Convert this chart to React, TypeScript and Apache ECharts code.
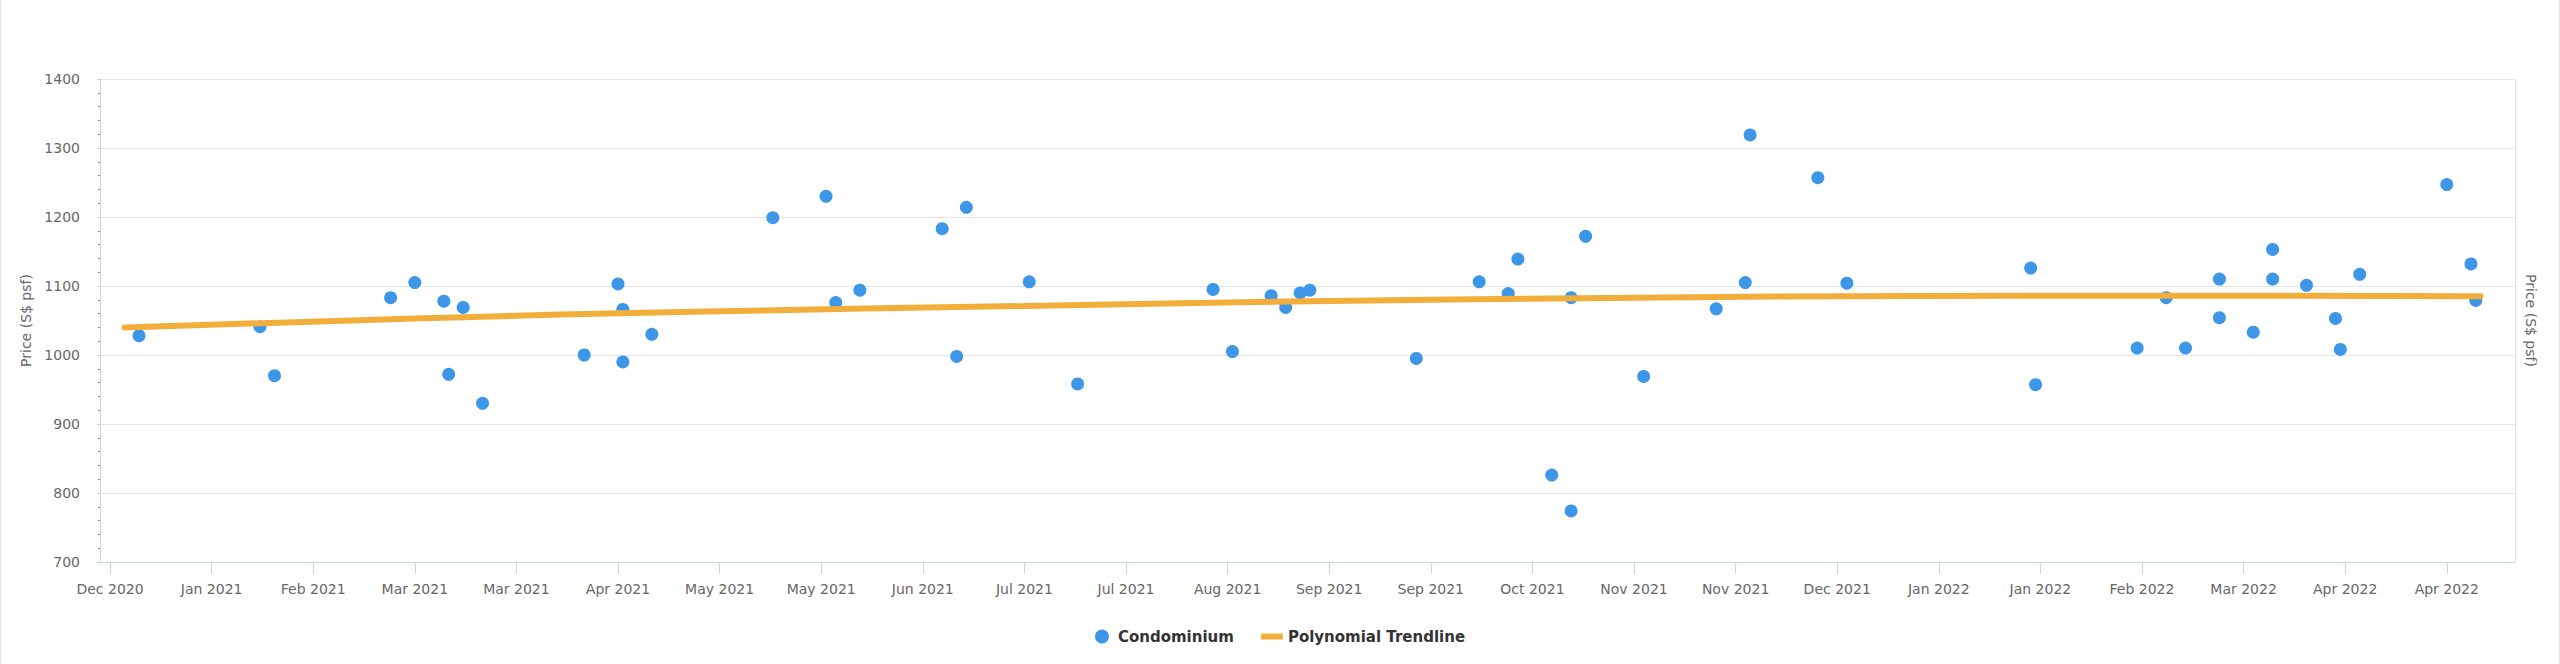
import React, { useEffect, useRef } from "react";
import * as echarts from "echarts";

const MONTHS = ["Jan", "Feb", "Mar", "Apr", "May", "Jun", "Jul", "Aug", "Sep", "Oct", "Nov", "Dec"];

// x-axis tick dates (labels shown as "Mon YYYY")
const tickDates = [
  "2020-12-28", "2021-01-18", "2021-02-08", "2021-03-01", "2021-03-22", "2021-04-12",
  "2021-05-03", "2021-05-24", "2021-06-14", "2021-07-05", "2021-07-26", "2021-08-16",
  "2021-09-06", "2021-09-27", "2021-10-18", "2021-11-08", "2021-11-29", "2021-12-20",
  "2022-01-10", "2022-01-31", "2022-02-21", "2022-03-14", "2022-04-04", "2022-04-25",
];

// Condominium transactions: date and price (S$ psf)
const condoDates = [
  "2021-01-03", "2021-01-28", "2021-01-31", "2021-02-24", "2021-03-01", "2021-03-07",
  "2021-03-08", "2021-03-11", "2021-03-15", "2021-04-05", "2021-04-12", "2021-04-13",
  "2021-04-13", "2021-04-19", "2021-05-14", "2021-05-25", "2021-05-27", "2021-06-01",
  "2021-06-18", "2021-06-21", "2021-06-23", "2021-07-06", "2021-07-16", "2021-08-13",
  "2021-08-17", "2021-08-25", "2021-08-28", "2021-08-31", "2021-09-02", "2021-09-24",
  "2021-10-07", "2021-10-13", "2021-10-15", "2021-10-22", "2021-10-26", "2021-10-26",
  "2021-10-29", "2021-11-10", "2021-11-25", "2021-12-01", "2021-12-02", "2021-12-16",
  "2021-12-22", "2022-01-29", "2022-01-30", "2022-02-20", "2022-02-26", "2022-03-02",
  "2022-03-09", "2022-03-09", "2022-03-16", "2022-03-20", "2022-03-20", "2022-03-27",
  "2022-04-02", "2022-04-03", "2022-04-07", "2022-04-25", "2022-04-30", "2022-05-01",
];
const condoPrices = [
  1028, 1041, 970, 1083, 1105, 1078,
  972, 1069, 930, 1000, 1103, 1066,
  990, 1030, 1199, 1230, 1076, 1094,
  1183, 998, 1214, 1106, 958, 1095,
  1005, 1086, 1069, 1090, 1094, 995,
  1106, 1089, 1139, 826, 1083, 774,
  1172, 969, 1067, 1105, 1319, 1257,
  1104, 1126, 957, 1010, 1083, 1010,
  1110, 1054, 1033, 1153, 1110, 1101,
  1053, 1008, 1117, 1247, 1132, 1079,
];

// Polynomial trendline
const trendDates = [
  "2020-12-31", "2021-03-01", "2021-04-30", "2021-07-05", "2021-09-02",
  "2021-11-08", "2022-01-05", "2022-03-14", "2022-05-02",
];
const trendPrices = [1040, 1053, 1063, 1071, 1078, 1083, 1085.5, 1086, 1085];

const ts = (s: string) => {
  const [y, m, d] = s.split("-").map(Number);
  return Date.UTC(y, m - 1, d);
};
const DAY = 86400000;

export default function App() {
  const ref = useRef<HTMLDivElement>(null);

  useEffect(() => {
    if (!ref.current) return;
    const chart = echarts.init(ref.current, undefined, { renderer: "svg" });
    const font = "DejaVu Sans";
    const tickVals = tickDates.map(ts);
    const fmt = (v: number) => {
      const d = new Date(v);
      return MONTHS[d.getUTCMonth()] + " " + d.getUTCFullYear();
    };
    chart.setOption({
      animation: false,
      backgroundColor: "#ffffff",
      textStyle: { fontFamily: font },
      grid: { left: 100, right: 45, top: 79, bottom: 102, outerBoundsMode: "none" },
      legend: {
        left: "center",
        top: 624,
        itemWidth: 22,
        itemHeight: 14,
        itemGap: 27,
        selectedMode: false,
        textStyle: { fontFamily: font, fontSize: 15, fontWeight: "bold", color: "#333333" },
        data: [
          { name: "Condominium", icon: "circle" },
          { name: "Polynomial Trendline", icon: "path://M0,0 L22,0 L22,6 L0,6 Z" },
        ],
      },
      xAxis: {
        type: "value",
        min: ts("2020-12-26") - 0.07 * DAY,
        max: ts("2022-05-09") + 0.1 * DAY,
        axisLine: { show: true, onZero: false, lineStyle: { color: "#ccd6eb", width: 1 } },
        axisTick: { show: true, length: 12, lineStyle: { color: "#ccd6eb" }, customValues: tickVals },
        axisLabel: {
          customValues: tickVals,
          formatter: fmt,
          color: "#666666",
          fontSize: 14,
          fontFamily: font,
          margin: 20,
          hideOverlap: false,
        },
        splitLine: { show: false },
      },
      yAxis: [
        {
          type: "value",
          min: 700,
          max: 1400,
          interval: 100,
          position: "left",
          name: "Price (S$ psf)",
          nameLocation: "middle",
          nameGap: 64,
          nameTextStyle: { color: "#666666", fontSize: 14, fontFamily: font },
          axisLine: { show: true, lineStyle: { color: "#ccd6eb" } },
          axisTick: { show: true, length: 3, lineStyle: { color: "#cccccc" } },
          minorTick: { show: true, splitNumber: 5, length: 2, lineStyle: { color: "#888888" } },
          axisLabel: {
            color: "#666666",
            fontSize: 14,
            fontFamily: font,
            margin: 20,
            formatter: (v: number) => String(v),
          },
          splitLine: { show: true, lineStyle: { color: "#e6e6e6", width: 1 } },
        },
        {
          type: "value",
          min: 700,
          max: 1400,
          interval: 100,
          position: "right",
          name: "Price (S$ psf)",
          nameLocation: "middle",
          nameRotate: -90,
          nameGap: 9,
          nameTextStyle: { color: "#666666", fontSize: 14, fontFamily: font },
          axisLine: { show: true, lineStyle: { color: "#dde2ec" } },
          axisTick: { show: false },
          axisLabel: { show: false },
          splitLine: { show: false },
        },
      ],
      series: [
        {
          name: "Condominium",
          type: "scatter",
          yAxisIndex: 0,
          symbol: "circle",
          symbolSize: 13,
          itemStyle: { color: "#3d96e8", opacity: 1 },
          data: condoDates.map((d, i) => [ts(d), condoPrices[i]]),
          z: 2,
        },
        {
          name: "Polynomial Trendline",
          type: "line",
          yAxisIndex: 0,
          smooth: true,
          showSymbol: false,
          symbol: "none",
          lineStyle: { color: "#f2ae3a", width: 6, cap: "round" },
          itemStyle: { color: "#f2ae3a" },
          data: trendDates.map((d, i) => [ts(d), trendPrices[i]]),
          z: 3,
        },
      ],
    });
    return () => chart.dispose();
  }, []);

  return (
    <div style={{ position: "fixed", left: 0, top: 0, width: 2560, height: 664, background: "#fff" }}>
      <div ref={ref} style={{ position: "absolute", left: 0, top: 0, width: 2560, height: 664 }} />
      <div
        style={{
          position: "absolute",
          left: 0,
          top: 0,
          width: 2560,
          height: 664,
          boxSizing: "border-box",
          borderLeft: "1px solid #e6e6e6",
          borderRight: "1px solid #e6e6e6",
          pointerEvents: "none",
        }}
      />
    </div>
  );
}
